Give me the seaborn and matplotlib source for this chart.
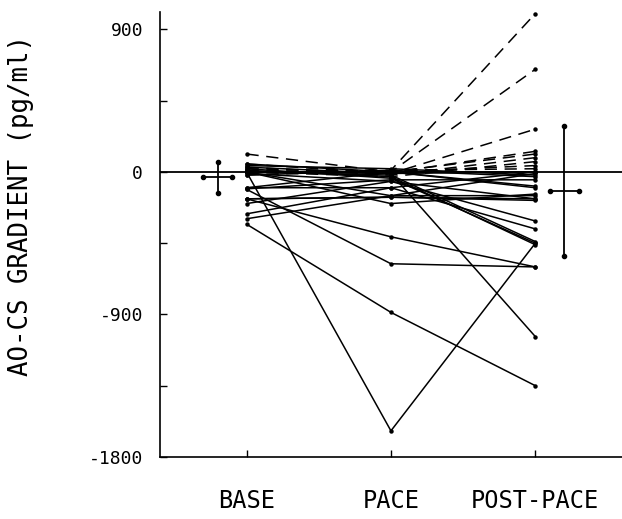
import numpy as np
import pandas as pd
import matplotlib
matplotlib.use("Agg")
import matplotlib.pyplot as plt
import seaborn as sns

# ---------------- data ----------------
phases = ["BASE", "PACE", "POST-PACE"]

# dashed subjects (gradient rises after pacing)
dash_base = [0, 0, 50, 113, 30, 0, 20, -20, 10]
dash_pace = [10, 0, -10, 0, -20, -30, 0, 10, -5]
dash_post = [1000, 648, 270, 113, 90, 65, 40, 20, 130]

# solid subjects
solid_base = [0, -330, -110, -170, 0, 20, 0, -10, -100, -265, -296, -170,
              0, 50, 0, -20, 30, -107, -170, 0, -100, 10, -200, 40]
solid_pace = [-1635, -887, -580, -410, -10, -40, -20, -60, -100, -100, -150, -160,
              -200, 0, 0, 10, -10, -50, -160, -150, 0, -30, -60, 20]
solid_post = [-450, -1350, -600, -600, -1040, -450, -440, -310, -360, 0, -150, -180,
              -140, -90, 0, -30, 0, -50, -170, -10, -100, -460, -170, -20]

# summary crosses (mean +/- SD)
cross_x = [-0.2, 2.2]
cross_mean = [-35, -120]
cross_sd = [100, 410]

yticks_major = [900, 0, -900, -1800]
yticks_minor = [450, -450, -1350]

# ---------------- long table ----------------
rows = []
sid = 0
for b, p, q in zip(dash_base, dash_pace, dash_post):
    for i, v in enumerate([b, p, q]):
        rows.append(dict(subject=sid, x=i, value=v, kind="dashed"))
    sid += 1
for b, p, q in zip(solid_base, solid_pace, solid_post):
    for i, v in enumerate([b, p, q]):
        rows.append(dict(subject=sid, x=i, value=v, kind="solid"))
    sid += 1
df = pd.DataFrame(rows)

# ---------------- plot ----------------
sns.set_theme(style="ticks")
plt.rcParams["font.family"] = ["DejaVu Sans Mono", "DejaVu Sans"]
plt.rcParams["text.color"] = "black"
plt.rcParams["axes.labelcolor"] = "black"
plt.rcParams["xtick.color"] = "black"
plt.rcParams["ytick.color"] = "black"

fig = plt.figure(figsize=(6.22, 5.19), dpi=100)
ax = fig.add_axes([0.257, 0.1195, 0.743, 0.8575])

ax.axhline(0, color="black", lw=1.3, zorder=1)

sns.lineplot(data=df, x="x", y="value", units="subject", estimator=None,
             style="kind", dashes={"solid": "", "dashed": (8, 5)},
             color="black", lw=1.1, marker="o", markersize=3.2,
             markeredgewidth=0, legend=False, ax=ax, zorder=3)

cross = pd.DataFrame(dict(x=cross_x, mean=cross_mean, sd=cross_sd))
for _, r in cross.iterrows():
    ax.errorbar(r["x"], r["mean"], yerr=r["sd"], xerr=0.1, fmt="none",
                ecolor="black", elinewidth=1.3, capsize=0, zorder=4)
    ax.plot([r["x"], r["x"]], [r["mean"] - r["sd"], r["mean"] + r["sd"]],
            "o", color="black", ms=3, zorder=4)
    ax.plot([r["x"] - 0.1, r["x"] + 0.1], [r["mean"], r["mean"]],
            "o", color="black", ms=3, zorder=4)

ax.set_xlim(-0.6, 2.6)
ax.set_ylim(-1800, 1010)
ax.set_xticks([0, 1, 2])
ax.set_xticklabels(phases, fontsize=17)
ax.set_yticks(yticks_major)
ax.set_yticklabels([str(v) for v in yticks_major], fontsize=13)
ax.set_yticks(yticks_minor, minor=True)
ax.tick_params(axis="both", which="both", direction="in", length=5, width=1,
               color="black")
ax.tick_params(axis="x", pad=23)
ax.tick_params(axis="y", pad=12)

ax.set_xlabel("")
ax.set_ylabel("AO-CS GRADIENT (pg/ml)", fontsize=18.5)
ax.yaxis.set_label_coords(-0.272, 0.566)

for s in ["top", "right"]:
    ax.spines[s].set_visible(False)
for s in ["left", "bottom"]:
    ax.spines[s].set_linewidth(1.2)
    ax.spines[s].set_color("black")

fig.savefig("out.png", dpi=100)
